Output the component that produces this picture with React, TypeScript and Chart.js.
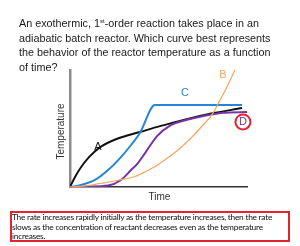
import React, { useEffect, useRef } from "react";
import { Chart, registerables } from "chart.js";

Chart.register(...registerables);

// Curve A (black)
const aTime = [0, 3, 6.5, 11, 17.5, 27.1, 39.5, 50.8, 62.1, 73.4, 79.1, 97.2];
const aTemp = [0, 9, 17.5, 26, 34.5, 41.5, 47, 52, 56.5, 60.7, 62.6, 67.5];
// Curve B (orange)
const bTime = [0, 8.5, 17.5, 27.1, 36.7, 45, 49.2, 54.8, 60.5, 67.8, 73.4, 80.8, 83.6, 88, 93.2];
const bTemp = [0, 0.9, 3.2, 5.8, 9, 15, 18.5, 24.5, 31, 41, 50, 63.2, 71, 83.5, 100];
// Curve C (blue)
const cTime = [0, 6.2, 14.1, 21.5, 28.8, 34.5, 39.5, 48, 97.2];
const cTemp = [0, 1.7, 6, 14.5, 25.6, 35.9, 46.2, 70.1, 70.1];
// Curve D (purple)
const dTime = [0, 10.2, 21.5, 28.8, 34.5, 37.9, 42.4, 49.2, 56.5, 66.1, 73.4, 86.4, 100];
const dTemp = [0, 0.3, 1.2, 6, 14.5, 19.5, 29, 43.5, 52.5, 57.5, 60, 63.4, 64.1];

const curveNames = ["A", "B", "C", "D"];
const curveColors = ["#111111", "#f6a45e", "#2686d4", "#7534a6"];

const zip = (xs: number[], ys: number[]) => xs.map((x, i) => ({ x, y: ys[i] }));

const labelPlugin = {
  id: "curveLabels",
  afterDatasetsDraw(chart: any) {
    const { ctx, scales } = chart;
    const xs = scales.x;
    const ys = scales.y;
    const spots: [number, number][] = [
      [15.8, 34.2],
      [86.4, 95.7],
      [65, 80.3],
      [97.7, 55.6],
    ];
    ctx.save();
    ctx.font = "11px 'Liberation Sans', Arial, sans-serif";
    ctx.textAlign = "center";
    ctx.textBaseline = "middle";
    spots.forEach(([vx, vy], i) => {
      const px = xs.getPixelForValue(vx);
      const py = ys.getPixelForValue(vy);
      ctx.fillStyle = curveColors[i];
      ctx.fillText(curveNames[i], px, py);
      if (curveNames[i] === "D") {
        ctx.beginPath();
        ctx.strokeStyle = "#e3252b";
        ctx.lineWidth = 2;
        ctx.arc(px, py, 7.5, 0, Math.PI * 2);
        ctx.stroke();
      }
    });
    // axis titles
    ctx.fillStyle = "#333333";
    ctx.font = "10px 'Liberation Sans', Arial, sans-serif";
    ctx.fillText("Time", (xs.left + xs.right) / 2 + 1, ys.bottom + 10);
    ctx.translate(xs.left - 9, (ys.top + ys.bottom) / 2 + 3);
    ctx.rotate(-Math.PI / 2);
    ctx.fillText("Temperature", 0, 0);
    ctx.restore();
  },
};

export default function App() {
  const ref = useRef<HTMLCanvasElement>(null);
  useEffect(() => {
    if (!ref.current) return;
    const mk = (xs: number[], ys: number[], i: number, w: number) => ({
      label: curveNames[i],
      data: zip(xs, ys),
      borderColor: curveColors[i],
      borderWidth: w,
      pointRadius: 0,
      cubicInterpolationMode: "monotone" as const,
      fill: false,
    });
    const chart = new Chart(ref.current, {
      type: "line",
      data: {
        datasets: [
          mk(bTime, bTemp, 1, 1.2),
          mk(dTime, dTemp, 3, 2),
          mk(cTime, cTemp, 2, 2),
          mk(aTime, aTemp, 0, 2),
        ],
      },
      options: {
        animation: false,
        responsive: false,
        devicePixelRatio: 1,
        layout: { padding: { left: 70, top: 70, right: 53, bottom: 59 } },
        plugins: { legend: { display: false }, tooltip: { enabled: false } },
        scales: {
          x: {
            type: "linear",
            min: 0,
            max: 100,
            ticks: { display: false },
            grid: { display: false, drawTicks: false },
            border: { display: true, color: "#333333", width: 1.5 },
          },
          y: {
            type: "linear",
            min: 0,
            max: 100,
            ticks: { display: false },
            grid: { display: false, drawTicks: false },
            border: { display: true, color: "#8c8c8c", width: 2.5 },
          },
        },
      },
      plugins: [labelPlugin],
    });
    return () => chart.destroy();
  }, []);

  return (
    <div style={{ position: "fixed", left: 0, top: 0, width: 300, height: 246, background: "#fff", overflow: "hidden" }}>
      <canvas ref={ref} width={300} height={246} style={{ position: "absolute", left: 0, top: 0 }} />
      <div
        style={{
          position: "absolute",
          left: 19,
          top: 16,
          fontFamily: "'Liberation Sans', Arial, sans-serif",
          fontSize: 10.8,
          lineHeight: "14.5px",
          color: "#1a1a1a",
          whiteSpace: "nowrap",
        }}
      >
        An exothermic, 1<sup style={{ fontSize: 6, verticalAlign: "top", lineHeight: "10px" }}>st</sup>-order reaction takes place in an
        <br />
        adiabatic batch reactor. Which curve best represents
        <br />
        the behavior of the reactor temperature as a function
        <br />
        of time?
      </div>
      <div
        style={{
          position: "absolute",
          left: 10,
          top: 211,
          width: 280,
          height: 31,
          boxSizing: "border-box",
          border: "2px solid #e3252b",
          fontFamily: "Lato, 'Liberation Sans', sans-serif",
          fontSize: 8.4,
          letterSpacing: "-0.26px",
          lineHeight: "9.5px",
          color: "#111",
          whiteSpace: "nowrap",
          paddingTop: 0,
        }}
      >
        The rate increases rapidly initially as the temperature increases, then the rate
        <br />
        slows as the concentration of reactant decreases even as the temperature
        <br />
        increases.
      </div>
    </div>
  );
}
